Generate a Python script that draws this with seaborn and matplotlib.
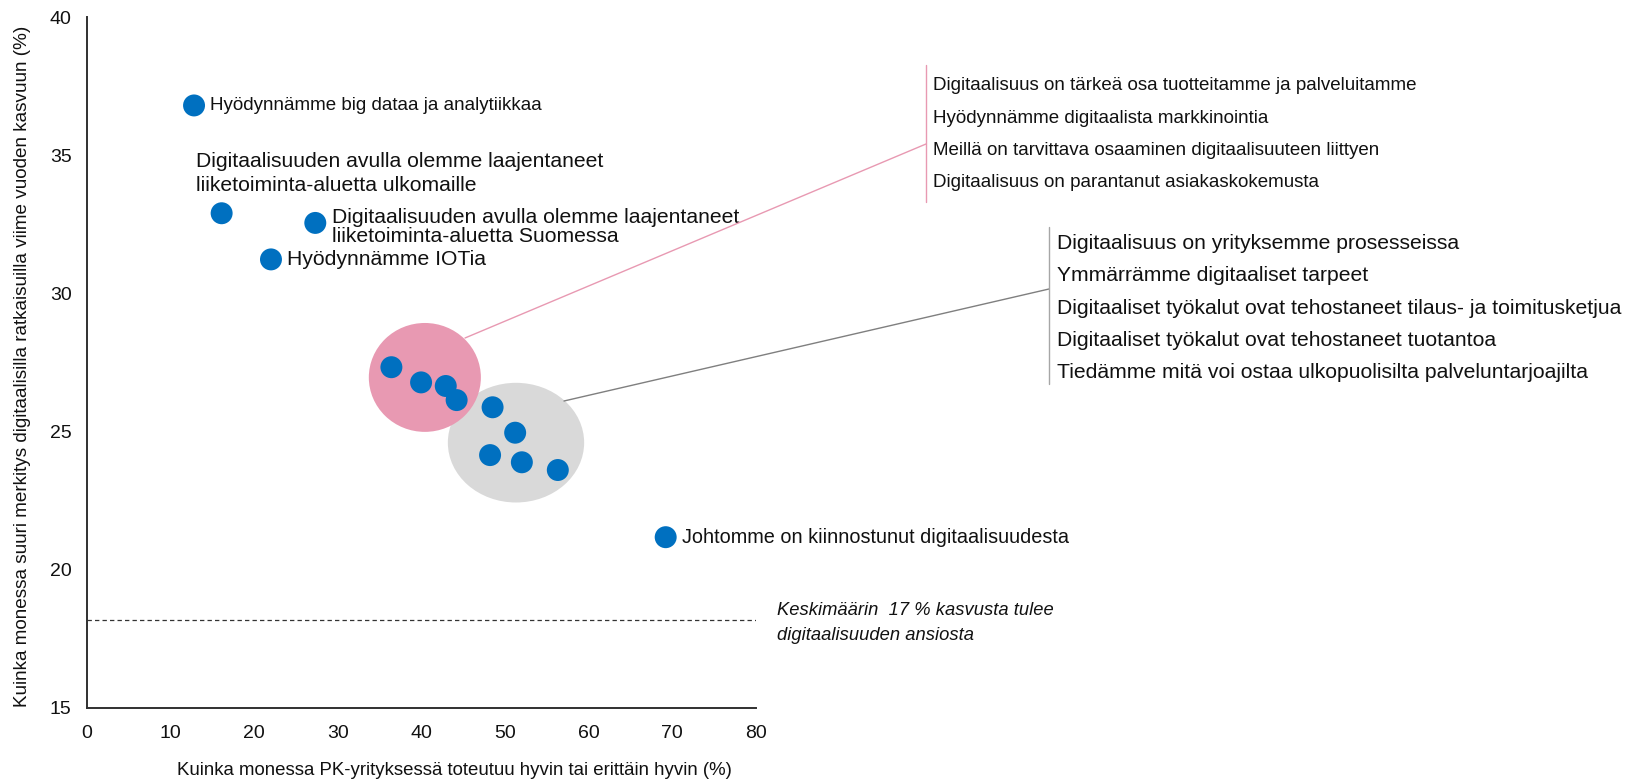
import pandas as pd
import seaborn as sns
import matplotlib.pyplot as plt
from matplotlib.patches import Ellipse
from matplotlib.lines import Line2D

# --- data ---
x_vals = [12.8, 16.1, 27.3, 22.0, 36.4, 39.95, 42.9, 44.2, 48.5, 51.2, 48.2, 52.0, 56.3, 69.2]
y_vals = [36.8, 32.9, 32.55, 31.23, 27.33, 26.78, 26.65, 26.14, 25.88, 24.96, 24.15, 23.89, 23.61, 21.18]
labels = [
    'Hyödynnämme big dataa ja analytiikkaa',
    'Digitaalisuuden avulla olemme laajentaneet\nliiketoiminta-aluetta ulkomaille',
    'Digitaalisuuden avulla olemme laajentaneet\nliiketoiminta-aluetta Suomessa',
    'Hyödynnämme IOTia',
    '', '', '', '', '', '', '', '', '',
    'Johtomme on kiinnostunut digitaalisuudesta',
]
# label styling per point: offset in pixels, font size, line spacing
label_offsets = [(16, 0), (-26, 40), (17, -4), (16, 0)] + [(0, 0)] * 9 + [(16, 0)]
label_sizes = [13.5, 15.2, 15.2, 15.2] + [13] * 9 + [14.3]
label_spacing = [1.2, 1.36, 1.05, 1.2] + [1.2] * 9 + [1.2]

pink_group = [
    'Digitaalisuus on tärkeä osa tuotteitamme ja palveluitamme',
    'Hyödynnämme digitaalista markkinointia',
    'Meillä on tarvittava osaaminen digitaalisuuteen liittyen',
    'Digitaalisuus on parantanut asiakaskokemusta',
]
gray_group = [
    'Digitaalisuus on yrityksemme prosesseissa',
    'Ymmärrämme digitaaliset tarpeet',
    'Digitaaliset työkalut ovat tehostaneet tilaus- ja toimitusketjua',
    'Digitaaliset työkalut ovat tehostaneet tuotantoa',
    'Tiedämme mitä voi ostaa ulkopuolisilta palveluntarjoajilta',
]
pink_ellipse = (40.4, 26.96, 13.4, 3.94)   # cx, cy, w, h
gray_ellipse = (51.3, 24.6, 16.3, 4.33)
avg_line = 18.18
avg_text = 'Keskimäärin  17 % kasvusta tulee\ndigitaalisuuden ansiosta'

x_ticks = [0, 10, 20, 30, 40, 50, 60, 70, 80]
y_ticks = [15, 20, 25, 30, 35, 40]
x_title = 'Kuinka monessa PK-yrityksessä toteutuu hyvin tai erittäin hyvin (%)'
y_title = 'Kuinka monessa suuri merkitys digitaalisilla ratkaisuilla viime vuoden kasvuun (%)'

df = pd.DataFrame({'x': x_vals, 'y': y_vals, 'label': labels})

# --- style ---
sns.set_style('white')
plt.rcParams['font.family'] = ['Liberation Sans', 'DejaVu Sans']

fig = plt.figure(figsize=(16.37, 7.82), dpi=100)
ax = fig.add_axes([87 / 1637, 1 - 708 / 782, 669 / 1637, 691 / 782])

PINK = '#E899B2'
GRAY = '#D9D9D9'
BLUE = '#0070C0'
TXT = '#111111'

cx, cy, w, h = gray_ellipse
ax.add_patch(Ellipse((cx, cy), w, h, facecolor=GRAY, edgecolor='none', zorder=1))
cx, cy, w, h = pink_ellipse
ax.add_patch(Ellipse((cx, cy), w, h, facecolor=PINK, edgecolor='none', zorder=2))

sns.scatterplot(data=df, x='x', y='y', ax=ax, s=250, color=BLUE,
                edgecolor='none', linewidth=0, zorder=3, legend=False)

for i, row in df.iterrows():
    if row['label']:
        dx, dy = label_offsets[i]
        ax.annotate(row['label'], (row['x'], row['y']), xytext=(dx, dy),
                    textcoords='offset pixels', ha='left', va='center',
                    fontsize=label_sizes[i], color=TXT, linespacing=label_spacing[i])

ax.axhline(avg_line, color='#333333', lw=0.9, linestyle=(0, (3.5, 2.5)), zorder=0)
ax.annotate(avg_text, (80, avg_line), xytext=(21, -3), textcoords='offset pixels',
            ha='left', va='center', fontsize=13.2, style='italic', color=TXT,
            linespacing=1.6, annotation_clip=False)

ax.set_xlim(0, 80)
ax.set_ylim(15, 40)
ax.set_xticks(x_ticks)
ax.set_yticks(y_ticks)
ax.tick_params(axis='both', length=0, labelsize=14, colors=TXT)
ax.tick_params(axis='x', pad=12)
ax.tick_params(axis='y', pad=11)
for side in ['top', 'right']:
    ax.spines[side].set_visible(False)
for side in ['left', 'bottom']:
    ax.spines[side].set_color('#303030')
    ax.spines[side].set_linewidth(1.4)

ax.set_xlabel(x_title, fontsize=13.4, color=TXT)
ax.set_ylabel(y_title, fontsize=13.6, color=TXT)
ax.xaxis.set_label_coords((454 - 87) / 669, (708 - 762) / 691)
ax.yaxis.set_label_coords((31 - 87) / 669, (708 - 366) / 691)

# --- callouts outside the axes ---
def fig_line(x0, y0, x1, y1, color, lw):
    fig.add_artist(Line2D([x0 / 1637, x1 / 1637], [1 - y0 / 782, 1 - y1 / 782],
                          transform=fig.transFigure, color=color, lw=lw))

fig_line(465, 338, 926, 144, PINK, 1.0)
fig_line(926, 65, 926, 202, PINK, 1.0)
fig_line(564, 401, 1049, 289, '#7F7F7F', 1.0)
fig_line(1049, 227, 1049, 384, '#A6A6A6', 1.0)

for i, txt in enumerate(pink_group):
    fig.text(933 / 1637, 1 - (86 + i * 32.3) / 782, txt, ha='left', va='center',
             fontsize=13.5, color=TXT)
for i, txt in enumerate(gray_group):
    fig.text(1057 / 1637, 1 - (243 + i * 32.5) / 782, txt, ha='left', va='center',
             fontsize=15.2, color=TXT)

fig.savefig('out.png', dpi=100)
